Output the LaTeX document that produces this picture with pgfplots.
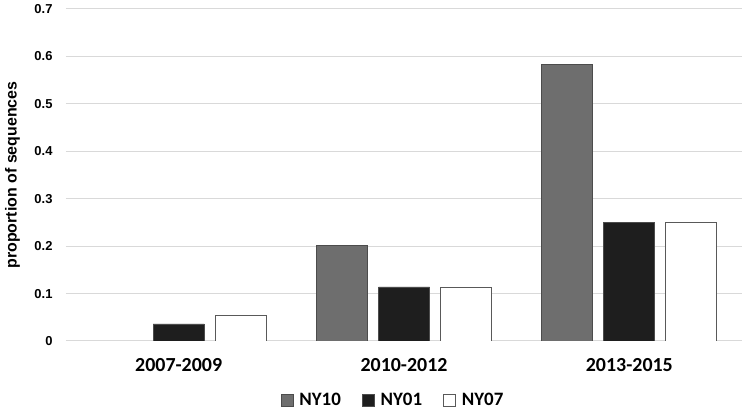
\documentclass[border=0pt]{standalone}
\usepackage{fontspec}
\setmainfont{Carlito}
\newfontfamily\arialfont{Liberation Sans}
\usepackage{pgfplots}
\pgfplotsset{compat=1.18}
\definecolor{ny10}{RGB}{110,110,110}
\definecolor{ny01}{RGB}{30,30,30}
\definecolor{gridgray}{RGB}{217,217,217}

\begin{document}
\begin{tikzpicture}
\begin{axis}[
    scale only axis,
    width=676bp, height=332bp,
    ybar=11bp,
    bar width=51bp,
    xmin=-0.5, xmax=2.5,
    ymin=0, ymax=0.7,
    xtick={0,1,2},
    xticklabels={2007-2009, 2010-2012, 2013-2015},
    ytick={0,0.1,...,0.7},
    yticklabel style={/pgf/number format/fixed, /pgf/number format/precision=1},
    /pgf/number format/assume math mode=true,
    axis line style={draw=none},
    major tick length=0pt,
    ymajorgrids,
    grid style={gridgray, line width=1pt},
    ylabel={proportion of sequences},
    ylabel style={font=\arialfont\bfseries\fontsize{16}{18}\selectfont, at={(axis description cs:-0.079,0.5)}, anchor=center},
    yticklabel style={font=\arialfont\bfseries\fontsize{13}{15}\selectfont, xshift=-10bp},
    xticklabel style={font=\bfseries\fontsize{20}{22}\selectfont, yshift=-14bp},
    legend style={at={(0.5,0)}, anchor=north, xshift=-11bp, yshift=-48bp, draw=none,
        font=\bfseries\fontsize{19}{21}\selectfont, legend columns=-1,
        /tikz/every even column/.append style={column sep=19bp},
        /tikz/every odd column/.append style={column sep=4bp}},
    legend image code/.code={\draw[#1, line width=0.8pt] (0bp,-6bp) rectangle (12bp,6bp);},
]
\addplot[fill=ny10, draw=black!70, line width=0.8pt] coordinates {(1,0.202) (2,0.584)};
\addplot[fill=ny01, draw=black!70, line width=0.8pt] coordinates {(0,0.036) (1,0.114) (2,0.249)};
\addplot[fill=white, draw=black!65, line width=0.8pt] coordinates {(0,0.053) (1,0.114) (2,0.249)};
\legend{NY10, NY01, NY07}
\end{axis}
\path ([xshift=-66bp,yshift=-67bp]current axis.south west) rectangle ([xshift=3bp,yshift=9bp]current axis.north east);
\end{tikzpicture}
\end{document}
